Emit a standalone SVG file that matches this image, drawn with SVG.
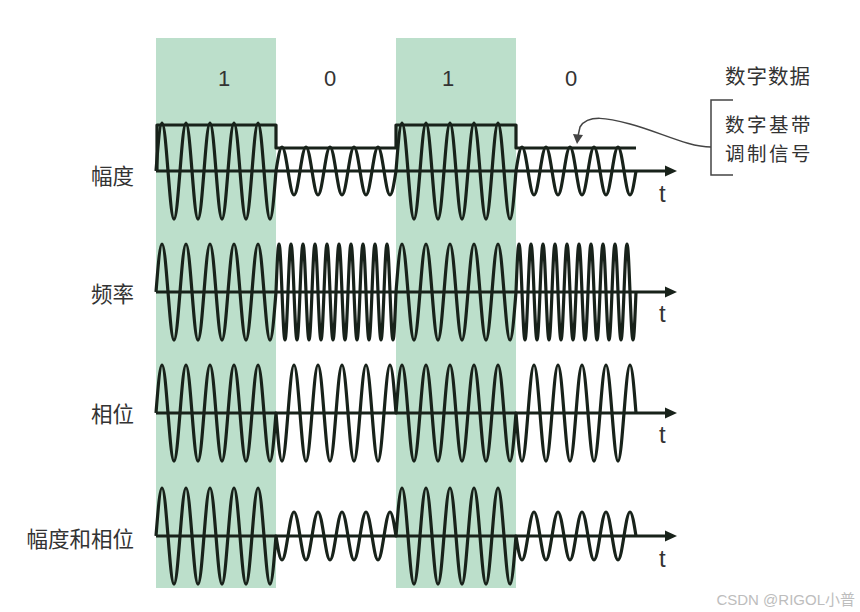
<svg xmlns="http://www.w3.org/2000/svg" width="860" height="612" viewBox="0 0 860 612">
<style>
.band{fill:#bcdfcb}
.wave{fill:none;stroke:#18221a;stroke-width:3.2;stroke-linejoin:round}
.axis{fill:none;stroke:#18221a;stroke-width:3}
.lbl{font-family:"Noto Sans CJK SC","Liberation Sans",sans-serif;font-size:21.5px;fill:#333}
.leg{font-family:"Noto Sans CJK SC","Liberation Sans",sans-serif;font-size:20.5px;fill:#333;letter-spacing:1px}
.leg2{font-family:"Noto Sans CJK SC","Liberation Sans",sans-serif;font-size:19.5px;fill:#333;letter-spacing:2.5px}
.bit{font-family:"Liberation Sans",Arial,sans-serif;font-size:22px;fill:#333;text-anchor:middle}
.t{font-family:"Liberation Sans",Arial,sans-serif;font-size:24px;fill:#333}
.thin{fill:none;stroke:#444;stroke-width:1.5}
</style>
<defs>
<marker id="ah" viewBox="0 0 12 12" refX="1" refY="6" markerWidth="12" markerHeight="12" markerUnits="userSpaceOnUse" orient="auto">
<path d="M0,0.5 L12,6 L0,11.5 Z" fill="#18221a"/>
</marker>
</defs>
<rect width="860" height="612" fill="#ffffff"/>
<g id="bands">
<rect class="band" x="156" y="38" width="120" height="550"/>
<rect class="band" x="396" y="38" width="120" height="550"/>
</g>
<g id="bits">
<text class="bit" x="224" y="86">1</text>
<text class="bit" x="330" y="86">0</text>
<text class="bit" x="448" y="86">1</text>
<text class="bit" x="571" y="86">0</text>
</g>
<g id="labels">
<text class="lbl" x="134" y="184" text-anchor="end">幅度</text>
<text class="lbl" x="134" y="302" text-anchor="end">频率</text>
<text class="lbl" x="134" y="422" text-anchor="end">相位</text>
<text class="lbl" x="134" y="547" text-anchor="end">幅度和相位</text>
</g>
<g id="axes">
<line class="axis" x1="156" y1="171" x2="666" y2="171" marker-end="url(#ah)"/>
<line class="axis" x1="156" y1="292" x2="666" y2="292" marker-end="url(#ah)"/>
<line class="axis" x1="156" y1="413" x2="666" y2="413" marker-end="url(#ah)"/>
<line class="axis" x1="156" y1="536" x2="666" y2="536" marker-end="url(#ah)"/>
<text class="t" x="659" y="202">t</text>
<text class="t" x="659" y="322">t</text>
<text class="t" x="659" y="443">t</text>
<text class="t" x="659" y="567">t</text>
</g>
<g id="row-amplitude">
<path class="wave" d="M157,171 V125 H276 V148 H396 V125 H516 V148 H636"/>
<path class="wave" d="M156,171 c1.96,-24.59 3.83,-48 6,-48 s4.04,23.41 6,48 s3.83,48 6,48 s4.04,-23.41 6,-48 s3.83,-48 6,-48 s4.04,23.41 6,48 s3.83,48 6,48 s4.04,-23.41 6,-48 s3.83,-48 6,-48 s4.04,23.41 6,48 s3.83,48 6,48 s4.04,-23.41 6,-48 s3.83,-48 6,-48 s4.04,23.41 6,48 s3.83,48 6,48 s4.04,-23.41 6,-48 s3.83,-48 6,-48 s4.04,23.41 6,48 s3.83,48 6,48 s4.04,-23.41 6,-48
c1.96,-12.3 3.83,-24 6,-24 s4.04,11.7 6,24 s3.83,24 6,24 s4.04,-11.7 6,-24 s3.83,-24 6,-24 s4.04,11.7 6,24 s3.83,24 6,24 s4.04,-11.7 6,-24 s3.83,-24 6,-24 s4.04,11.7 6,24 s3.83,24 6,24 s4.04,-11.7 6,-24 s3.83,-24 6,-24 s4.04,11.7 6,24 s3.83,24 6,24 s4.04,-11.7 6,-24 s3.83,-24 6,-24 s4.04,11.7 6,24 s3.83,24 6,24 s4.04,-11.7 6,-24
c1.96,-24.59 3.83,-48 6,-48 s4.04,23.41 6,48 s3.83,48 6,48 s4.04,-23.41 6,-48 s3.83,-48 6,-48 s4.04,23.41 6,48 s3.83,48 6,48 s4.04,-23.41 6,-48 s3.83,-48 6,-48 s4.04,23.41 6,48 s3.83,48 6,48 s4.04,-23.41 6,-48 s3.83,-48 6,-48 s4.04,23.41 6,48 s3.83,48 6,48 s4.04,-23.41 6,-48 s3.83,-48 6,-48 s4.04,23.41 6,48 s3.83,48 6,48 s4.04,-23.41 6,-48
c1.96,-12.3 3.83,-24 6,-24 s4.04,11.7 6,24 s3.83,24 6,24 s4.04,-11.7 6,-24 s3.83,-24 6,-24 s4.04,11.7 6,24 s3.83,24 6,24 s4.04,-11.7 6,-24 s3.83,-24 6,-24 s4.04,11.7 6,24 s3.83,24 6,24 s4.04,-11.7 6,-24 s3.83,-24 6,-24 s4.04,11.7 6,24 s3.83,24 6,24 s4.04,-11.7 6,-24 s3.83,-24 6,-24 s4.04,11.7 6,24 s3.83,24 6,24 s4.04,-11.7 6,-24"/>
</g>
<g id="row-frequency">
<path class="wave" d="M156,292 c1.96,-24.59 3.83,-48 6,-48 s4.04,23.41 6,48 s3.83,48 6,48 s4.04,-23.41 6,-48 s3.83,-48 6,-48 s4.04,23.41 6,48 s3.83,48 6,48 s4.04,-23.41 6,-48 s3.83,-48 6,-48 s4.04,23.41 6,48 s3.83,48 6,48 s4.04,-23.41 6,-48 s3.83,-48 6,-48 s4.04,23.41 6,48 s3.83,48 6,48 s4.04,-23.41 6,-48 s3.83,-48 6,-48 s4.04,23.41 6,48 s3.83,48 6,48 s4.04,-23.41 6,-48
c0.98,-24.59 1.91,-48 3,-48 s2.02,23.41 3,48 s1.91,48 3,48 s2.02,-23.41 3,-48 s1.91,-48 3,-48 s2.02,23.41 3,48 s1.91,48 3,48 s2.02,-23.41 3,-48 s1.91,-48 3,-48 s2.02,23.41 3,48 s1.91,48 3,48 s2.02,-23.41 3,-48 s1.91,-48 3,-48 s2.02,23.41 3,48 s1.91,48 3,48 s2.02,-23.41 3,-48 s1.91,-48 3,-48 s2.02,23.41 3,48 s1.91,48 3,48 s2.02,-23.41 3,-48 s1.91,-48 3,-48 s2.02,23.41 3,48 s1.91,48 3,48 s2.02,-23.41 3,-48 s1.91,-48 3,-48 s2.02,23.41 3,48 s1.91,48 3,48 s2.02,-23.41 3,-48 s1.91,-48 3,-48 s2.02,23.41 3,48 s1.91,48 3,48 s2.02,-23.41 3,-48 s1.91,-48 3,-48 s2.02,23.41 3,48 s1.91,48 3,48 s2.02,-23.41 3,-48 s1.91,-48 3,-48 s2.02,23.41 3,48 s1.91,48 3,48 s2.02,-23.41 3,-48
c1.96,-24.59 3.83,-48 6,-48 s4.04,23.41 6,48 s3.83,48 6,48 s4.04,-23.41 6,-48 s3.83,-48 6,-48 s4.04,23.41 6,48 s3.83,48 6,48 s4.04,-23.41 6,-48 s3.83,-48 6,-48 s4.04,23.41 6,48 s3.83,48 6,48 s4.04,-23.41 6,-48 s3.83,-48 6,-48 s4.04,23.41 6,48 s3.83,48 6,48 s4.04,-23.41 6,-48 s3.83,-48 6,-48 s4.04,23.41 6,48 s3.83,48 6,48 s4.04,-23.41 6,-48
c0.98,-24.59 1.91,-48 3,-48 s2.02,23.41 3,48 s1.91,48 3,48 s2.02,-23.41 3,-48 s1.91,-48 3,-48 s2.02,23.41 3,48 s1.91,48 3,48 s2.02,-23.41 3,-48 s1.91,-48 3,-48 s2.02,23.41 3,48 s1.91,48 3,48 s2.02,-23.41 3,-48 s1.91,-48 3,-48 s2.02,23.41 3,48 s1.91,48 3,48 s2.02,-23.41 3,-48 s1.91,-48 3,-48 s2.02,23.41 3,48 s1.91,48 3,48 s2.02,-23.41 3,-48 s1.91,-48 3,-48 s2.02,23.41 3,48 s1.91,48 3,48 s2.02,-23.41 3,-48 s1.91,-48 3,-48 s2.02,23.41 3,48 s1.91,48 3,48 s2.02,-23.41 3,-48 s1.91,-48 3,-48 s2.02,23.41 3,48 s1.91,48 3,48 s2.02,-23.41 3,-48 s1.91,-48 3,-48 s2.02,23.41 3,48 s1.91,48 3,48 s2.02,-23.41 3,-48 s1.91,-48 3,-48 s2.02,23.41 3,48 s1.91,48 3,48 s2.02,-23.41 3,-48"/>
</g>
<g id="row-phase">
<path class="wave" d="M156,413 c1.96,-24.59 3.83,-48 6,-48 s4.04,23.41 6,48 s3.83,48 6,48 s4.04,-23.41 6,-48 s3.83,-48 6,-48 s4.04,23.41 6,48 s3.83,48 6,48 s4.04,-23.41 6,-48 s3.83,-48 6,-48 s4.04,23.41 6,48 s3.83,48 6,48 s4.04,-23.41 6,-48 s3.83,-48 6,-48 s4.04,23.41 6,48 s3.83,48 6,48 s4.04,-23.41 6,-48 s3.83,-48 6,-48 s4.04,23.41 6,48 s3.83,48 6,48 s4.04,-23.41 6,-48
c1.96,24.59 3.83,48 6,48 s4.04,-23.41 6,-48 s3.83,-48 6,-48 s4.04,23.41 6,48 s3.83,48 6,48 s4.04,-23.41 6,-48 s3.83,-48 6,-48 s4.04,23.41 6,48 s3.83,48 6,48 s4.04,-23.41 6,-48 s3.83,-48 6,-48 s4.04,23.41 6,48 s3.83,48 6,48 s4.04,-23.41 6,-48 s3.83,-48 6,-48 s4.04,23.41 6,48 s3.83,48 6,48 s4.04,-23.41 6,-48 s3.83,-48 6,-48 s4.04,23.41 6,48
c1.96,-24.59 3.83,-48 6,-48 s4.04,23.41 6,48 s3.83,48 6,48 s4.04,-23.41 6,-48 s3.83,-48 6,-48 s4.04,23.41 6,48 s3.83,48 6,48 s4.04,-23.41 6,-48 s3.83,-48 6,-48 s4.04,23.41 6,48 s3.83,48 6,48 s4.04,-23.41 6,-48 s3.83,-48 6,-48 s4.04,23.41 6,48 s3.83,48 6,48 s4.04,-23.41 6,-48 s3.83,-48 6,-48 s4.04,23.41 6,48 s3.83,48 6,48 s4.04,-23.41 6,-48
c1.96,24.59 3.83,48 6,48 s4.04,-23.41 6,-48 s3.83,-48 6,-48 s4.04,23.41 6,48 s3.83,48 6,48 s4.04,-23.41 6,-48 s3.83,-48 6,-48 s4.04,23.41 6,48 s3.83,48 6,48 s4.04,-23.41 6,-48 s3.83,-48 6,-48 s4.04,23.41 6,48 s3.83,48 6,48 s4.04,-23.41 6,-48 s3.83,-48 6,-48 s4.04,23.41 6,48 s3.83,48 6,48 s4.04,-23.41 6,-48 s3.83,-48 6,-48 s4.04,23.41 6,48"/>
</g>
<g id="row-amp-phase">
<path class="wave" d="M156,536 c1.96,-24.59 3.83,-48 6,-48 s4.04,23.41 6,48 s3.83,48 6,48 s4.04,-23.41 6,-48 s3.83,-48 6,-48 s4.04,23.41 6,48 s3.83,48 6,48 s4.04,-23.41 6,-48 s3.83,-48 6,-48 s4.04,23.41 6,48 s3.83,48 6,48 s4.04,-23.41 6,-48 s3.83,-48 6,-48 s4.04,23.41 6,48 s3.83,48 6,48 s4.04,-23.41 6,-48 s3.83,-48 6,-48 s4.04,23.41 6,48 s3.83,48 6,48 s4.04,-23.41 6,-48
c1.96,12.3 3.83,24 6,24 s4.04,-11.7 6,-24 s3.83,-24 6,-24 s4.04,11.7 6,24 s3.83,24 6,24 s4.04,-11.7 6,-24 s3.83,-24 6,-24 s4.04,11.7 6,24 s3.83,24 6,24 s4.04,-11.7 6,-24 s3.83,-24 6,-24 s4.04,11.7 6,24 s3.83,24 6,24 s4.04,-11.7 6,-24 s3.83,-24 6,-24 s4.04,11.7 6,24 s3.83,24 6,24 s4.04,-11.7 6,-24 s3.83,-24 6,-24 s4.04,11.7 6,24
c1.96,-24.59 3.83,-48 6,-48 s4.04,23.41 6,48 s3.83,48 6,48 s4.04,-23.41 6,-48 s3.83,-48 6,-48 s4.04,23.41 6,48 s3.83,48 6,48 s4.04,-23.41 6,-48 s3.83,-48 6,-48 s4.04,23.41 6,48 s3.83,48 6,48 s4.04,-23.41 6,-48 s3.83,-48 6,-48 s4.04,23.41 6,48 s3.83,48 6,48 s4.04,-23.41 6,-48 s3.83,-48 6,-48 s4.04,23.41 6,48 s3.83,48 6,48 s4.04,-23.41 6,-48
c1.96,12.3 3.83,24 6,24 s4.04,-11.7 6,-24 s3.83,-24 6,-24 s4.04,11.7 6,24 s3.83,24 6,24 s4.04,-11.7 6,-24 s3.83,-24 6,-24 s4.04,11.7 6,24 s3.83,24 6,24 s4.04,-11.7 6,-24 s3.83,-24 6,-24 s4.04,11.7 6,24 s3.83,24 6,24 s4.04,-11.7 6,-24 s3.83,-24 6,-24 s4.04,11.7 6,24 s3.83,24 6,24 s4.04,-11.7 6,-24 s3.83,-24 6,-24 s4.04,11.7 6,24"/>
</g>
<g id="legend">
<text class="leg" x="725" y="84">数字数据</text>
<path class="thin" d="M733,100 H711 V175 H733"/>
<text class="leg2" x="725" y="132">数字基带</text>
<text class="leg2" x="725" y="160.5">调制信号</text>
</g>
<g id="connectors">
<path class="thin" d="M711,147 C688,147 660,132 630,124 C608,118 588,114 580,127 L578,136"/>
<path d="M573,134 L583,135 L577,144 Z" fill="#444"/>
</g>
<text x="855" y="605" text-anchor="end" font-family="Liberation Sans, Noto Sans CJK SC, sans-serif" font-size="15" fill="#bdbdbd">CSDN @RIGOL小普</text>
</svg>
